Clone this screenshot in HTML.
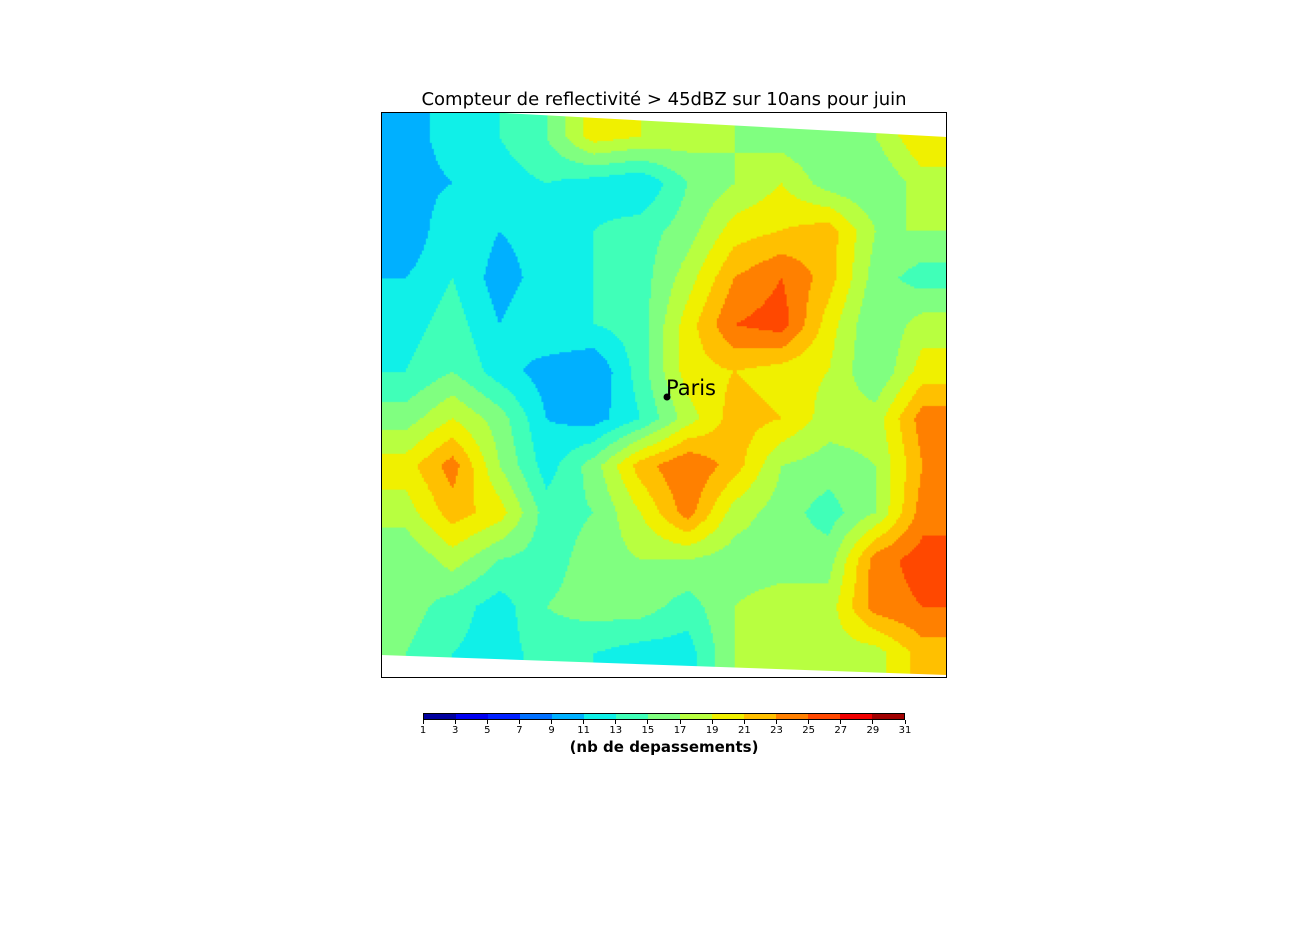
<!DOCTYPE html>
<html><head><meta charset="utf-8"><style>
body{margin:0;background:#fff;width:1296px;height:936px;position:relative;overflow:hidden;font-family:"DejaVu Sans","Liberation Sans",sans-serif}
#title{position:absolute;left:0;width:1328px;top:89px;text-align:center;font-size:18px;color:#000;white-space:nowrap}
#map{position:absolute;left:381px;top:112px;width:566px;height:566px;border:1px solid #000;box-sizing:border-box}
#cb{position:absolute;left:423px;top:713px;width:482px;height:7px;border:1px solid #000;box-sizing:border-box;display:flex}
#cb div{flex:1}
.tk{position:absolute;top:725px;font-size:10px;transform:translateX(-50%)}
.tl{position:absolute;top:720px;width:1px;height:4px;background:#000}
#cbt{position:absolute;left:423px;width:482px;top:738px;text-align:center;font-weight:bold;font-size:15px;white-space:nowrap}
</style></head><body>
<div id="title">Compteur de reflectivité &gt; 45dBZ sur 10ans pour juin</div>
<canvas id="map" width="566" height="566"></canvas>
<svg style="position:absolute;left:381px;top:112px" width="566" height="566">
<polygon points="105,0 566,0 566,25" fill="#fff"/>
<polygon points="0,543 566,563 566,566 0,566" fill="#fff"/>
<rect x="0.5" y="0.5" width="565" height="565" fill="none" stroke="#000"/>
<circle cx="286" cy="285" r="3.5" fill="#000"/>
<text x="285" y="283" font-size="21" font-family="DejaVu Sans, sans-serif">Paris</text>
</svg>
<div id="cb"></div>
<div id="cbt">(nb de depassements)</div>
<script>
const gridValues = [
[10,12,13,15,20,19,18,17,16,15,17,21],
[10,11,12,13,12,11,15,17,19,16,15,18],
[9,13,11,12,13,14,16,20,21,22,17,17],
[11,13,10,12,13,14,18,23,25,22,16,14],
[12,14,11,13,13,14,20,25,26,20,15,18],
[13,15,12,10,9,14,20,21,20,19,15,20],
[16,19,16,11,10,13,18,22,21,18,18,24],
[20,24,17,12,16,22,25,22,17,16,17,23],
[18,22,20,14,15,19,24,18,16,14,17,24],
[15,18,15,14,16,17,17,16,16,16,24,26],
[16,14,12,15,16,16,14,17,18,18,24,25],
[15,13,12,14,13,12,12,17,17,18,18,22]];
const levelColors = ["#00009f","#0000f0","#0020ff","#0070ff","#00b0ff","#10f0e8","#40ffb8","#80ff80","#b8ff40","#f0f000","#ffc000","#ff8000","#ff4800","#f00000","#a00000"];
const tickLabels = [1,3,5,7,9,11,13,15,17,19,21,23,25,27,29,31];
const vmin=1,vmax=31;
function colorOf(v){let i=Math.floor((v-vmin)/2);i=Math.max(0,Math.min(levelColors.length-1,i));return levelColors[i];}
const cv=document.getElementById('map'),ctx=cv.getContext('2d');
const n=gridValues.length,cell=566/n,step=2;
for(let y=0;y<566;y+=step){for(let x=0;x<566;x+=step){
 let gx=(x+1)/cell-0.5,gy=(y+1)/cell-0.5;
 gx=Math.max(0,Math.min(n-1.001,gx));gy=Math.max(0,Math.min(n-1.001,gy));
 const i=Math.floor(gx),j=Math.floor(gy),fx=gx-i,fy=gy-j;
 const v=gridValues[j][i]*(1-fx)*(1-fy)+gridValues[j][i+1]*fx*(1-fy)+gridValues[j+1][i]*(1-fx)*fy+gridValues[j+1][i+1]*fx*fy;
 ctx.fillStyle=colorOf(v);ctx.fillRect(x,y,step,step);}}
const cb=document.getElementById('cb');
levelColors.forEach((c,k)=>{const d=document.createElement('div');d.style.background=c;


cb.appendChild(d);});
tickLabels.forEach((t,k)=>{const x=423+k*482/(tickLabels.length-1);
const l=document.createElement('div');l.className='tk';l.style.left=x+'px';l.textContent=t;


document.body.appendChild(l);
const m=document.createElement('div');m.className='tl';m.style.left=(x-0.5)+'px';


document.body.appendChild(m);});
</script>
</body></html>
